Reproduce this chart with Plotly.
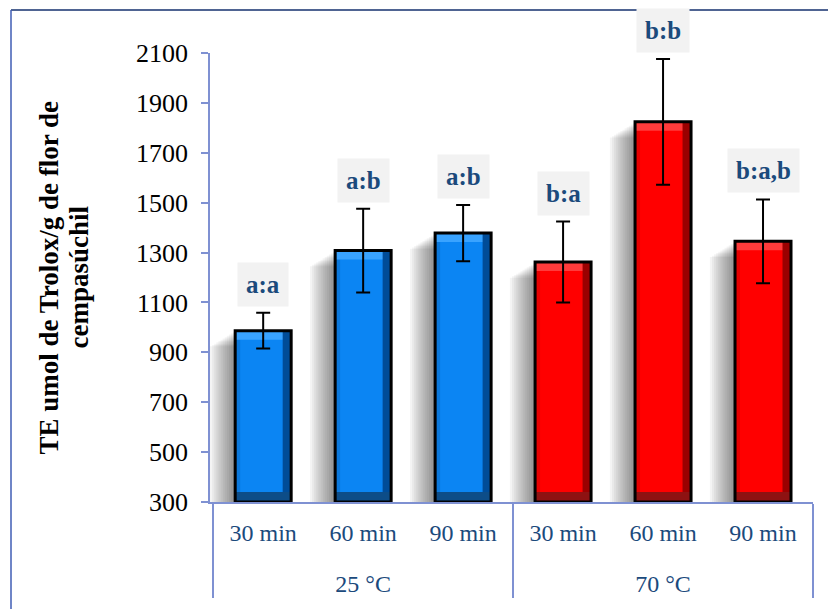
import plotly.graph_objects as go

# Data: antioxidant capacity (TE umol Trolox / g marigold flower)
temperatures = ["25 °C", "25 °C", "25 °C", "70 °C", "70 °C", "70 °C"]
times = ["30 min", "60 min", "90 min", "30 min", "60 min", "90 min"]
te_values = [987, 1308, 1378, 1262, 1824, 1345]
te_errors = [72, 168, 113, 162, 252, 168]
letters = ["a:a", "a:b", "a:b", "b:a", "b:b", "b:a,b"]

# Shading palette per temperature group
main_col = {"25 °C": "#0b85f3", "70 °C": "#ff0000"}
left_col = {"25 °C": "#0a78dc", "70 °C": "#e80000"}
top_col = {"25 °C": "#39a3ff", "70 °C": "#ff3b3b"}
right_col = {"25 °C": "#004c98", "70 °C": "#9a0000"}
bottom_col = {"25 °C": "#0d4d88", "70 °C": "#8e1212"}

Y_MIN, Y_MAX = 300, 2100
W = 828
H = 609
M_L, M_R, M_T, M_B = 210, 15, 53, 107
AX_COL = "#7f91d2"
SERIF = "Liberation Serif"
LABEL_COL = "#1b4a7c"

# group labels sit one line lower, as in the category header band
x = [["<br>" + t for t in temperatures], times]
half = 0.28
units_per_px = (Y_MAX - Y_MIN) / (H - M_T - M_B)

fig = go.Figure()

# soft drop shadow to the left of each bar
n_shadow = 12
for k in range(1, n_shadow + 1):
    fig.add_trace(go.Bar(
        x=x, y=[v - Y_MIN - 1.3 * k * units_per_px for v in te_values], base=Y_MIN,
        offset=-half - 0.021 * k, width=0.021 * k + 0.1,
        marker=dict(color="rgba(0,0,0,0.045)", line=dict(width=0)),
        hoverinfo="skip", showlegend=False))

# main bar body
fig.add_trace(go.Bar(
    x=x, y=[v - Y_MIN for v in te_values], base=Y_MIN,
    offset=-half, width=2 * half,
    marker=dict(color=[main_col[t] for t in temperatures], line=dict(width=0)),
    showlegend=False))

# bevel: left edge
fig.add_trace(go.Bar(
    x=x, y=[v - Y_MIN for v in te_values], base=Y_MIN,
    offset=-half, width=0.05,
    marker=dict(color=[left_col[t] for t in temperatures], line=dict(width=0)),
    hoverinfo="skip", showlegend=False))

# bevel: top highlight
bevel_h = 9 * units_per_px
fig.add_trace(go.Bar(
    x=x, y=[bevel_h] * len(te_values), base=[v - bevel_h for v in te_values],
    offset=-half, width=2 * half,
    marker=dict(color=[top_col[t] for t in temperatures], line=dict(width=0)),
    hoverinfo="skip", showlegend=False))

# bevel: dark right edge
fig.add_trace(go.Bar(
    x=x, y=[v - Y_MIN for v in te_values], base=Y_MIN,
    offset=half - 0.085, width=0.085,
    marker=dict(color=[right_col[t] for t in temperatures], line=dict(width=0)),
    hoverinfo="skip", showlegend=False))

# bevel: dark bottom band
fig.add_trace(go.Bar(
    x=x, y=[10 * units_per_px] * len(te_values), base=Y_MIN,
    offset=-half, width=2 * half,
    marker=dict(color=[bottom_col[t] for t in temperatures], line=dict(width=0)),
    hoverinfo="skip", showlegend=False))

# black outline with error bars on top
fig.add_trace(go.Bar(
    x=x, y=[v - Y_MIN for v in te_values], base=Y_MIN,
    offset=-half, width=2 * half,
    marker=dict(color="rgba(0,0,0,0)", line=dict(color="black", width=3)),
    error_y=dict(type="data", array=te_errors, color="black",
                 thickness=2, width=7, visible=True),
    showlegend=False))

# significance letters above the error bars
for t, m, v, e, lab in zip(x[0], times, te_values, te_errors, letters):
    fig.add_annotation(
        x=[t, m], y=v + e, xref="x", yref="y",
        text=f"<b>{lab}</b>", showarrow=False,
        yanchor="bottom", yshift=6,
        bgcolor="#f2f2f2", borderpad=8,
        font=dict(family=SERIF, size=25, color=LABEL_COL))

# y-axis title, two lines
pw = W - M_L - M_R
ph = H - M_T - M_B
for text, px in [("TE umol de Trolox/g de flor de", 48), ("cempasúchil", 78)]:
    fig.add_annotation(
        x=-(M_L - px) / pw, y=0.5, xref="paper", yref="paper",
        text=f"<b>{text}</b>", textangle=-90, showarrow=False,
        xanchor="center", yanchor="middle",
        font=dict(family=SERIF, size=27, color="black"))

# outer frame (top and left edges)
fx0 = (11 - M_L) / pw
fy1 = (H - M_B - 10) / ph
fig.add_shape(type="line", xref="paper", yref="paper",
              x0=fx0, x1=(W - M_L + 5) / pw, y0=fy1, y1=fy1,
              line=dict(color="#14306e", width=1.5))
fig.add_shape(type="line", xref="paper", yref="paper",
              x0=fx0, x1=fx0, y0=fy1, y1=-(M_B + 5) / ph,
              line=dict(color="#3f5cb4", width=1.5))

fig.update_layout(
    width=W, height=H,
    margin=dict(l=M_L, r=M_R, t=M_T, b=M_B),
    barmode="overlay",
    plot_bgcolor="white", paper_bgcolor="white",
    font=dict(family=SERIF),
    showlegend=False,
    xaxis=dict(
        type="multicategory",
        showline=True, linecolor=AX_COL, linewidth=1.5,
        ticks="", showgrid=False,
        showdividers=True, dividercolor=AX_COL, dividerwidth=1.5,
        tickfont=dict(family=SERIF, size=24, color=LABEL_COL),
        ticklabelstandoff=8,
    ),
    yaxis=dict(
        range=[Y_MIN, Y_MAX], tick0=300, dtick=200,
        showline=True, linecolor=AX_COL, linewidth=1.5,
        ticks="outside", ticklen=7, tickcolor=AX_COL, tickwidth=1.5,
        showgrid=False, zeroline=False,
        tickfont=dict(family=SERIF, size=26, color="black"),
        ticklabelstandoff=8,
    ),
)

fig.write_html("out.html")
